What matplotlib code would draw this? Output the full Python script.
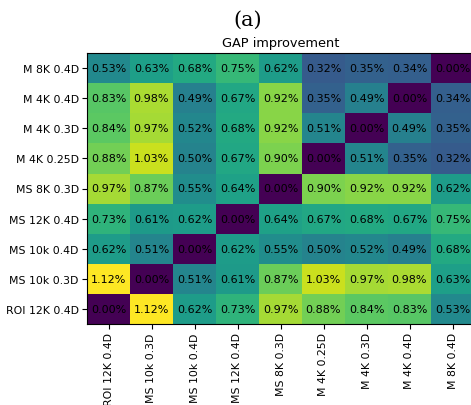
import numpy as np
import matplotlib
matplotlib.use("Agg")
import matplotlib.pyplot as plt

labels = ["ROI 12K 0.4D", "MS 10k 0.3D", "MS 10k 0.4D", "MS 12K 0.4D", "MS 8K 0.3D",
          "M 4K 0.25D", "M 4K 0.3D", "M 4K 0.4D", "M 8K 0.4D"]

# pairwise GAP improvement (%), rows/cols in label order
roi_12k_04 = [0.00, 1.12, 0.62, 0.73, 0.97, 0.88, 0.84, 0.83, 0.53]
ms_10k_03 = [1.12, 0.00, 0.51, 0.61, 0.87, 1.03, 0.97, 0.98, 0.63]
ms_10k_04 = [0.62, 0.51, 0.00, 0.62, 0.55, 0.50, 0.52, 0.49, 0.68]
ms_12k_04 = [0.73, 0.61, 0.62, 0.00, 0.64, 0.67, 0.68, 0.67, 0.75]
ms_8k_03 = [0.97, 0.87, 0.55, 0.64, 0.00, 0.90, 0.92, 0.92, 0.62]
m_4k_025 = [0.88, 1.03, 0.50, 0.67, 0.90, 0.00, 0.51, 0.35, 0.32]
m_4k_03 = [0.84, 0.97, 0.52, 0.68, 0.92, 0.51, 0.00, 0.49, 0.35]
m_4k_04 = [0.83, 0.98, 0.49, 0.67, 0.92, 0.35, 0.49, 0.00, 0.34]
m_8k_04 = [0.53, 0.63, 0.68, 0.75, 0.62, 0.32, 0.35, 0.34, 0.00]

gap = np.array([roi_12k_04, ms_10k_03, ms_10k_04, ms_12k_04, ms_8k_03,
                m_4k_025, m_4k_03, m_4k_04, m_8k_04])

W, H = 471, 406
fig = plt.figure(figsize=(W / 100, H / 100), dpi=100)
# heatmap runs slightly past the right border of the figure
ax = fig.add_axes([87 / W, 1 - 325 / H, 387 / W, 271 / H])

ax.imshow(gap, cmap="viridis", origin="lower", aspect="auto", vmin=0, vmax=gap.max())

for i in range(len(labels)):
    for j in range(len(labels)):
        ax.text(j, i, f"{gap[i, j]:.2f}%", ha="center", va="center",
                fontsize=8, color="black")

ax.set_xticks(range(len(labels)))
ax.set_yticks(range(len(labels)))
ax.set_xticklabels(labels, rotation=90, fontsize=7.8)
ax.set_yticklabels(labels, fontsize=7.8)
ax.tick_params(pad=2.5)
ax.set_title("GAP improvement", fontsize=9.3, pad=5)

fig.text(248 / W, 1 - 20 / H, "(a)", family="DejaVu Serif", fontsize=15,
         ha="center", va="center")

fig.savefig("out.png", dpi=100)
